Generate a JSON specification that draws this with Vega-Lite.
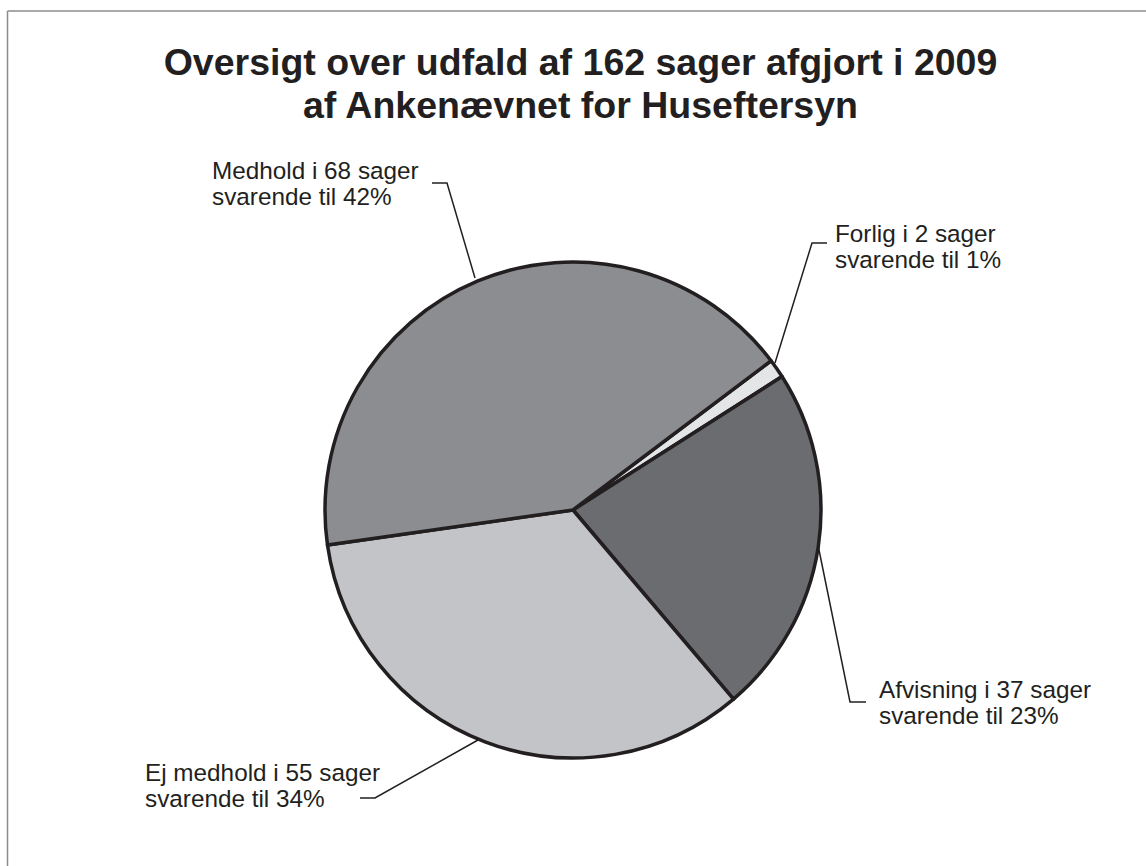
{
  "$schema": "https://vega.github.io/schema/vega-lite/v6.json",
  "width": 1146,
  "height": 712,
  "autosize": "none",
  "padding": {"top": 154, "left": 0, "right": 0, "bottom": 0},
  "background": "white",
  "config": {"view": {"stroke": null}},
  "datasets": {
    "heading": [
      {"x": 7.5, "y": 435, "text": "Oversigt over udfald af 162 sager afgjort i 2009\naf Ankenævnet for Huseftersyn"}
    ],
    "slices": [
      {"outcome": "Forlig", "cases": 2, "rank": 1},
      {"outcome": "Afvisning", "cases": 37, "rank": 2},
      {"outcome": "Ej medhold", "cases": 55, "rank": 3},
      {"outcome": "Medhold", "cases": 68, "rank": 4}
    ],
    "labels": [
      {"outcome": "Medhold", "x": -361, "y": 331, "label": "Medhold i 68 sager\nsvarende til 42%"},
      {"outcome": "Forlig", "x": 262, "y": 268, "label": "Forlig i 2 sager\nsvarende til 1%"},
      {"outcome": "Afvisning", "x": 306, "y": -188, "label": "Afvisning i 37 sager\nsvarende til 23%"},
      {"outcome": "Ej medhold", "x": -428, "y": -271, "label": "Ej medhold i 55 sager\nsvarende til 34%"}
    ],
    "leaders": [
      {"id": "Medhold", "seq": 1, "x": -141, "y": 327},
      {"id": "Medhold", "seq": 2, "x": -126, "y": 327},
      {"id": "Medhold", "seq": 3, "x": -98, "y": 232},
      {"id": "Forlig", "seq": 1, "x": 254, "y": 267},
      {"id": "Forlig", "seq": 2, "x": 239, "y": 267},
      {"id": "Forlig", "seq": 3, "x": 202, "y": 147},
      {"id": "Afvisning", "seq": 1, "x": 245, "y": -35},
      {"id": "Afvisning", "seq": 2, "x": 277, "y": -192},
      {"id": "Afvisning", "seq": 3, "x": 293, "y": -192},
      {"id": "Ej medhold", "seq": 1, "x": -95, "y": -230},
      {"id": "Ej medhold", "seq": 2, "x": -198, "y": -288},
      {"id": "Ej medhold", "seq": 3, "x": -213, "y": -288}
    ],
    "frame": [
      {"x": -565.5, "y": 499, "x2": 573, "y2": 499},
      {"x": -565.5, "y": 499, "x2": -565.5, "y2": -356}
    ]
  },
  "layer": [
    {
      "data": {"name": "frame"},
      "mark": {"type": "rule", "color": "#8c8c8c", "strokeWidth": 1.5},
      "encoding": {
        "x": {"field": "x", "type": "quantitative", "scale": {"domain": [-573, 573], "nice": false, "zero": false}, "axis": null},
        "y": {"field": "y", "type": "quantitative", "scale": {"domain": [-356, 356], "nice": false, "zero": false}, "axis": null},
        "x2": {"field": "x2"},
        "y2": {"field": "y2"}
      }
    },
    {
      "data": {"name": "heading"},
      "mark": {"type": "text", "align": "center", "baseline": "alphabetic", "font": "Liberation Sans", "fontSize": 37.5, "fontWeight": "bold", "lineBreak": "\n", "lineHeight": 43, "color": "#231f20"},
      "encoding": {
        "x": {"field": "x", "type": "quantitative"},
        "y": {"field": "y", "type": "quantitative"},
        "text": {"field": "text", "type": "nominal"}
      }
    },
    {
      "data": {"name": "slices"},
      "mark": {"type": "arc", "outerRadius": 248, "stroke": "#231f20", "strokeWidth": 3.5, "strokeJoin": "round"},
      "encoding": {
        "theta": {"field": "cases", "type": "quantitative", "stack": true, "scale": {"range": [0.925, 7.2082]}},
        "color": {
          "field": "outcome",
          "type": "nominal",
          "scale": {"domain": ["Forlig", "Afvisning", "Ej medhold", "Medhold"], "range": ["#e4e5e6", "#6b6c6f", "#c3c4c7", "#8c8d90"]},
          "legend": null
        },
        "order": {"field": "rank", "type": "quantitative"}
      }
    },
    {
      "data": {"name": "leaders"},
      "mark": {"type": "line", "color": "#231f20", "strokeWidth": 1.5},
      "encoding": {
        "x": {"field": "x", "type": "quantitative"},
        "y": {"field": "y", "type": "quantitative"},
        "detail": {"field": "id", "type": "nominal"},
        "order": {"field": "seq", "type": "quantitative"}
      }
    },
    {
      "data": {"name": "labels"},
      "mark": {"type": "text", "align": "left", "baseline": "alphabetic", "font": "Liberation Sans", "fontSize": 24.3, "lineBreak": "\n", "lineHeight": 26, "color": "#231f20"},
      "encoding": {
        "x": {"field": "x", "type": "quantitative"},
        "y": {"field": "y", "type": "quantitative"},
        "text": {"field": "label", "type": "nominal"}
      }
    }
  ]
}
